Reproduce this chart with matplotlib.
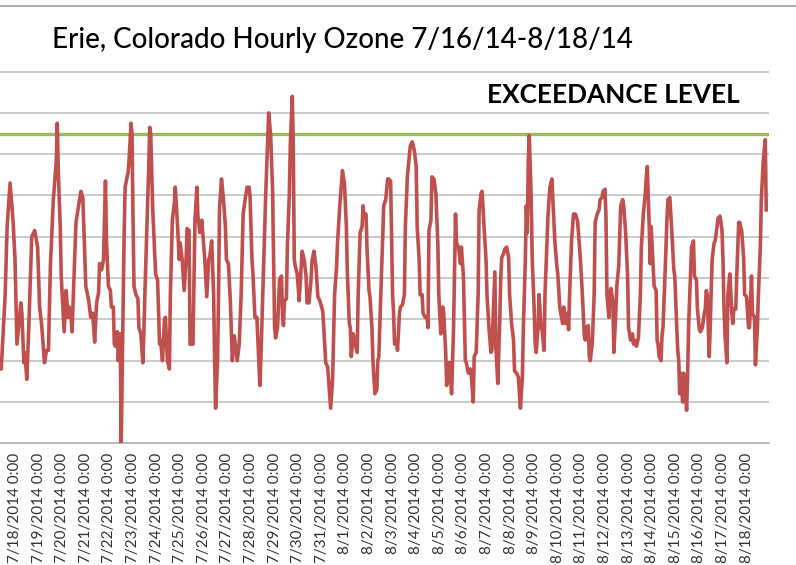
import matplotlib
matplotlib.use("Agg")
import matplotlib.pyplot as plt
from matplotlib.lines import Line2D
import numpy as np
import pandas as pd

# hourly ozone (ppb), hours counted from 7/18/2014 0:00
hours = [-15, -14, -10, -8, -5, -2, 0, 2, 3, 6, 7, 9, 10, 12, 14, 17, 20, 23, 25, 27,
         30, 32, 34, 36, 39, 42, 43, 44, 46, 47, 50, 52, 54, 55, 57, 58, 60, 62, 64, 67,
         69, 70, 72, 75, 77, 79, 81, 83, 85,
         86, 88, 90, 92, 93, 95, 97, 98, 100, 101, 102, 104, 105, 107, 108, 110, 111, 112,
         114, 115, 116, 118, 119, 120, 121, 123, 125, 126, 128, 130, 131, 132, 134, 136,
         137, 138,
         140, 142, 143, 145, 147, 148, 150, 152, 153, 155, 157, 158, 160, 162, 163, 165,
         167, 168, 170, 172, 174, 175, 177, 178, 181, 183, 185, 186, 188, 190, 193, 195,
         197, 198, 200, 202, 203, 204, 206, 207, 208, 210, 212, 214, 215, 217, 219, 221,
         223, 225, 226, 228, 230, 232, 234, 236, 238, 239,
         241, 242, 244, 246, 247, 249, 250, 252, 254, 255, 257, 258, 260, 262, 263, 264,
         265, 267, 269, 271, 272, 273, 274, 276, 277, 279, 280, 282, 283, 284, 285, 287,
         289, 291, 292, 294, 296, 297, 299, 301, 302, 304, 306, 308, 310, 313, 314, 316,
         318, 320, 321, 323, 325, 327, 328, 330, 332, 333, 335, 337, 338, 340, 341, 342,
         344, 346, 348, 349, 351, 353, 354, 355, 357, 358, 360, 361, 363, 364, 366,
         368, 369, 370, 372, 374, 375, 377, 379, 380, 382, 384, 385, 386, 388, 389, 391,
         392, 394, 396, 397, 399, 402, 404, 406, 408, 409, 411, 412, 414, 415, 417, 419,
         420, 421, 423, 424, 426, 428, 430, 431, 433, 435, 436, 438, 439, 441, 442, 444,
         446, 448, 449, 451, 453, 454, 456, 458, 459, 461, 463, 464, 466, 467, 469, 471,
         472, 474, 475, 477, 479, 480, 482, 484, 485, 488, 489, 491, 493, 494,
         495, 497, 498, 500, 502, 503, 505, 507, 508, 510, 512, 513, 514, 516, 517, 519,
         520, 521, 522, 523, 525, 526, 528, 529, 530, 532, 533, 535, 536, 538, 539, 541,
         542, 544, 546, 547, 549, 551, 552, 554, 555, 557, 558, 560, 562, 563, 564, 566,
         568, 570, 572, 573, 575, 577, 579, 580, 581, 583, 584, 585, 587, 589, 590, 592,
         594, 595, 597, 598, 600, 601, 602, 604, 605, 606, 608, 609, 611, 612, 614, 616,
         618, 619, 621, 623, 624, 626, 628, 629, 630,
         632, 634, 636, 637, 639, 641, 642, 643, 645, 646, 647, 648, 650, 652, 653, 654,
         655, 657, 658, 659, 661, 663, 664, 666, 668, 670, 671, 673, 674, 675, 676, 677,
         679, 680, 681, 683, 684, 685, 687, 688, 690, 691, 693, 694, 696, 697, 699, 701,
         702, 703, 704, 706, 707, 708, 709, 711, 712, 714, 715, 717, 719, 720, 721, 722,
         724, 725, 727, 729, 730, 731, 733, 734, 736, 737, 739, 741, 742, 744, 746, 747,
         749, 750, 752, 753, 755, 756, 758, 759, 761, 763, 764]

ozone = [18, 18, 36, 52.5, 63, 54, 44.5, 24, 26.5, 34, 31.5, 19.5, 22, 15.5, 28, 50, 51.5, 47.5, 33, 29,
         19.5, 22.5, 22.5, 43, 59, 68.5, 77.5, 66, 52.5, 40.5, 27, 37, 30.5, 33, 30.5, 27, 40.5, 53.5, 56.5, 61,
         59.5, 52.5, 38, 34.5, 30.5, 31.5, 24.5, 34, 36.5,
         43.5, 42, 44.5, 63.5, 49, 38, 37, 33, 33, 24, 23.5, 27, 20, 26.5, 0, 34.5, 51, 62,
         64.5, 65.5, 68.5, 77.5, 75, 55, 38, 36, 35, 28, 26.5, 19.5, 26.5, 35.5, 51, 67,
         76.5, 75,
         57, 46, 41, 39.5, 24, 25, 20, 30, 30.5, 20, 18, 36, 54, 58, 62, 54,
         44.5, 48.5, 44.5, 37, 44.5, 52, 51.5, 24, 24, 54, 62, 55, 51, 54, 44.5, 35.5,
         44.5, 45, 49, 36, 20, 8.5, 20, 36, 57, 64, 59, 52.5, 44.5, 43.5, 34.5, 20,
         26, 22, 20, 24, 36, 55.5, 59, 62, 62, 60,
         44.5, 41, 30.5, 30.5, 25, 14, 20, 36, 52.5, 60.5, 74, 80, 74.5, 61, 44.5, 28,
         25.5, 28, 39.5, 40.5, 31.5, 28.5, 34.5, 35, 47.5, 60.5, 72.5, 84, 72, 44.5, 43, 41,
         34.5, 42.5, 46.5, 44.5, 40.5, 34, 34, 39.5, 44, 46.5, 43, 35.5, 34.5, 32, 28, 19.5,
         18.5, 12, 8.5, 15.5, 36, 42.5, 48.5, 56.5, 63, 66, 63, 52.5, 41, 29, 28, 21,
         26.5, 24, 22, 36, 51, 52.5, 57.5, 55, 55.5, 47, 37, 35.5, 28, 20, 12,
         13, 20, 21, 36, 50, 57.5, 59, 64, 64, 63.5, 36, 31.5, 24, 25, 22.5, 31.5,
         33, 33.5, 36, 52.5, 64.5, 72, 73, 71, 67, 52.5, 44.5, 36, 36, 31.5, 30.5, 30.5,
         28, 51.5, 54, 64.5, 64, 60.5, 48.5, 36, 26.5, 33, 31.5, 22, 14, 19.5, 19.5, 12,
         28, 55.5, 48.5, 47.5, 43.5, 47.5, 40.5, 20, 19.5, 17, 18, 16.5, 10, 21, 22, 36,
         56.5, 60.5, 61, 52.5, 44.5, 36, 28, 22, 22.5, 41.5, 23.5, 14.5, 30, 40,
         45, 46, 47, 47.5, 45, 36, 29, 25, 17.5, 17, 16, 12, 8.5, 16, 28, 44.5,
         57.5, 51, 68.5, 74.5, 59, 44.5, 32.5, 24, 22, 28, 36, 28, 27.5, 22.5, 36, 48.5,
         55, 62, 64, 59, 49, 43, 41, 33, 31.5, 29, 33, 29, 31.5, 27.5, 36, 49,
         55.5, 55.5, 54, 51, 44.5, 36, 26, 25, 28, 28.5, 21, 20, 24, 36, 53.5, 55.5,
         56.5, 59, 59.5, 61, 61.5, 55, 36, 30.5, 36, 37.5, 34.5, 22, 31.5, 38, 43, 57.5,
         59, 57.5, 51, 40.5, 28, 25, 26.5, 24, 25,
         23.5, 25.5, 36, 47.5, 55.5, 60.5, 64.5, 67, 52.5, 43.5, 52.5, 47.5, 38, 37, 25, 24,
         21, 20, 26, 28, 40.5, 54, 59, 59.5, 51, 42, 40.5, 28, 22.5, 20, 12, 17,
         10, 17, 16, 8, 16, 28, 41, 47.5, 49, 40.5, 39.5, 32.5, 27.5, 27, 28, 31.5,
         32.5, 37, 36, 21, 28, 37, 44.5, 48.5, 49, 52.5, 54.5, 55, 51.5, 44.5, 33, 26.5,
         19.5, 36, 41, 31.5, 29, 32.5, 32.5, 40.5, 53.5, 53.5, 51.5, 45, 36, 35.5, 28, 28,
         40.5, 31.5, 30.5, 19, 28, 36, 47.5, 59, 68.5, 73.5, 56.5]

exceedance = 75
grid_levels = [10, 20, 30, 40, 50, 60, 70, 80, 90]
title = "Erie, Colorado Hourly Ozone 7/16/14-8/18/14"

start = pd.Timestamp("2014-07-18 00:00")
times = start + pd.to_timedelta(hours, unit="h")
days = pd.date_range("2014-07-18", "2014-08-18", freq="D")
day_labels = [f"{d.month}/{d.day}/{d.year} 0:00" for d in days]

plt.rcParams['font.family'] = ['Lato', 'DejaVu Sans']

W, H = 796, 565
fig = plt.figure(figsize=(W / 100, H / 100), dpi=100)
# plot area in pixels: x 0..769, y value 0 at 443.3, 92 at 63.3
ax = fig.add_axes([0, 1 - 443.3 / H, 769 / W, (443.3 - 63.3) / H])
ax.set_ylim(0, 92)
ax.set_xlim(start + pd.Timedelta(hours=-15.26), start + pd.Timedelta(hours=766.8))

for g in grid_levels:
    ax.axhline(g, color="#bdbdbd", lw=1.1, zorder=1)

ax.axhline(exceedance, color="#9bbb59", lw=2.4, zorder=2)
ax.plot(times, ozone, color="#c0504d", lw=2.6, zorder=3, solid_joinstyle="round")

for s in ["left", "right", "top"]:
    ax.spines[s].set_visible(False)
ax.spines["bottom"].set_color("#a6a6a6")
ax.spines["bottom"].set_linewidth(1.1)
ax.set_yticks([])
ax.set_xticks(days)
ax.set_xticklabels(day_labels, rotation=90, fontsize=11, color="#333333")
ax.tick_params(axis="x", length=0, pad=7)

fig.text(52 / W, 1 - 48 / H, title, fontsize=20, fontweight="medium", color="black",
         va="baseline", ha="left")
fig.text(487 / W, 1 - 103 / H, "EXCEEDANCE LEVEL", fontsize=18.8, fontweight="bold",
         color="black", va="baseline", ha="left")

# thin border line across the top of the picture
fig.add_artist(Line2D([0, 1], [1 - 6 / H, 1 - 6 / H], color="#a0a0a0", lw=1.2))

fig.savefig("out.png", dpi=100)
